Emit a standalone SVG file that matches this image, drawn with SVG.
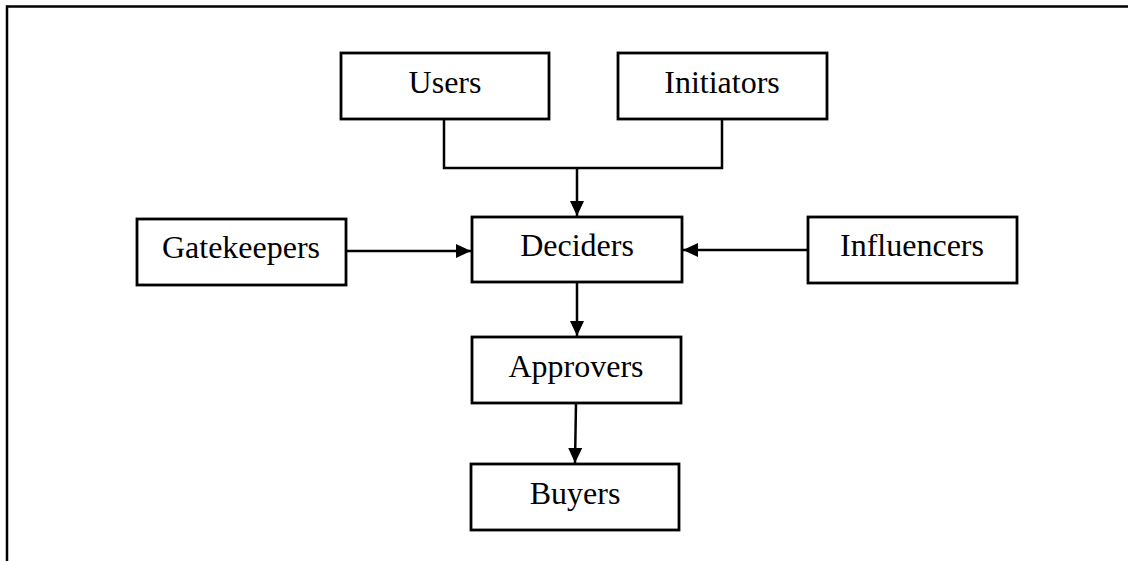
<svg xmlns="http://www.w3.org/2000/svg" width="1128" height="561" viewBox="0 0 1128 561">
<style>
.box{fill:#fff;stroke:#000;stroke-width:2.8}
.lbl{font-family:"Liberation Serif","Times New Roman",serif;font-size:32px;fill:#000;text-anchor:middle}
.con{fill:none;stroke:#000;stroke-width:2.5}
.arr{marker-end:url(#ah)}
</style>
<defs>
<marker id="ah" markerUnits="userSpaceOnUse" markerWidth="18" markerHeight="18" viewBox="0 0 18 18" refX="16" refY="9" orient="auto">
<path d="M1,2 L16,9 L1,16 Z" fill="#000"/>
</marker>
</defs>
<rect width="1128" height="561" fill="#fff"/>
<path d="M7,561 V6.5 H1128" fill="none" stroke="#000" stroke-width="2.5"/>
<g id="connectors">
<path class="con" d="M444,119 V168 H722 V119"/>
<path class="con arr" d="M577,168 V216"/>
<path class="con arr" d="M346,251 L471,251"/>
<path class="con arr" d="M808,250 L683,250"/>
<path class="con arr" d="M577,282 V336"/>
<path class="con arr" d="M576,403 L575,463"/>
</g>
<g id="users"><rect class="box" x="341" y="53" width="208" height="66"/><text class="lbl" x="445" y="93">Users</text></g>
<g id="initiators"><rect class="box" x="618" y="53" width="209" height="66"/><text class="lbl" x="722" y="93">Initiators</text></g>
<g id="gatekeepers"><rect class="box" x="137" y="219" width="209" height="66"/><text class="lbl" x="241" y="258">Gatekeepers</text></g>
<g id="deciders"><rect class="box" x="472" y="217" width="210" height="65"/><text class="lbl" x="577" y="256">Deciders</text></g>
<g id="influencers"><rect class="box" x="808" y="217" width="209" height="66"/><text class="lbl" x="912" y="256">Influencers</text></g>
<g id="approvers"><rect class="box" x="472" y="337" width="209" height="66"/><text class="lbl" x="576" y="377">Approvers</text></g>
<g id="buyers"><rect class="box" x="471" y="464" width="208" height="66"/><text class="lbl" x="575" y="504">Buyers</text></g>
</svg>
